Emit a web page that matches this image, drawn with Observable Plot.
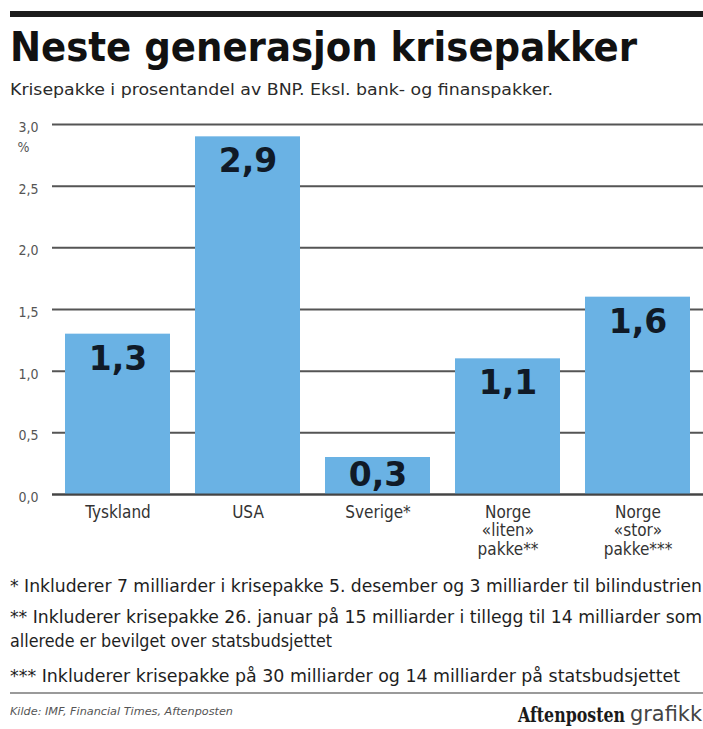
<!DOCTYPE html>
<html>
<head>
<meta charset="utf-8">
<script src="https://cdn.jsdelivr.net/npm/d3@7"></script>
<script src="https://cdn.jsdelivr.net/npm/@observablehq/plot@0.6"></script>
<style>
  html, body { margin: 0; padding: 0; background: #fff; }
  body { position: relative; width: 703px; height: 729px; overflow: hidden;
         font-family: "DejaVu Sans Condensed", "DejaVu Sans", sans-serif; }
  .t { position: absolute; white-space: nowrap; line-height: 1; display: inline-block; transform-origin: 0 0; }
  #topbar { position: absolute; left: 10px; top: 11px; width: 693px; height: 6px; background: #1d1d1d; }
  #title { left: 10px; top: 27.3px; font-size: 41px; font-weight: bold; color: #111; }
  #subtitle { left: 10px; top: 81.5px; font-size: 16px; color: #2a2a2a; }
  .fn { left: 10px; font-size: 18px; color: #1e1e1e; }
  #rule { position: absolute; left: 10px; top: 692px; width: 693px; height: 2px; background: #9a9a9a; }
  #source { left: 10px; top: 706px; font-size: 10.5px; font-style: italic; color: #555; }
  #logo1 { left: 518px; top: 704px; font-size: 21px; font-weight: bold; font-family: "DejaVu Serif", serif; color: #1a1a1a; }
  #logo2 { left: 630px; top: 704px; font-size: 21px; color: #444; }
  #chart { position: absolute; left: 0; top: 105px; }
</style>
</head>
<body>
<div id="topbar"></div>
<div class="t" id="title" data-w="627">Neste generasjon krisepakker</div>
<div class="t" id="subtitle" data-w="543">Krisepakke i prosentandel av BNP. Eksl. bank- og finanspakker.</div>
<div id="chart"></div>
<div id="footnotes"></div>
<div id="rule"></div>
<div class="t" id="source" data-w="223">Kilde: IMF, Financial Times, Aftenposten</div>
<div class="t" id="logo1" data-w="107">Aftenposten</div>
<div class="t" id="logo2" data-w="72">grafikk</div>
<script>
// ---- data ----
const categories = ["Tyskland", "USA", "Sverige*", "Norge\n«liten»\npakke**", "Norge\n«stor»\npakke***"];
const values = [1.3, 2.9, 0.3, 1.1, 1.6];
const valueLabels = ["1,3", "2,9", "0,3", "1,1", "1,6"];
const yTicks = [0, 0.5, 1, 1.5, 2, 2.5, 3];
const yTickLabels = ["0,0", "0,5", "1,0", "1,5", "2,0", "2,5", "3,0"];
const yUnit = "%";
const footnoteLines = [
  "* Inkluderer 7 milliarder i krisepakke 5. desember og 3 milliarder til bilindustrien",
  "** Inkluderer krisepakke 26. januar på 15 milliarder i tillegg til 14 milliarder som",
  "allerede er bevilget over statsbudsjettet",
  "*** Inkluderer krisepakke på 30 milliarder og 14 milliarder på statsbudsjettet"
];

// ---- layout of footnotes (style only) ----
const fnTops = [576.8, 607.8, 631.8, 666.8];
const fnWidths = [692, 692, 322, 670];
const fnHost = document.getElementById("footnotes");
footnoteLines.forEach((s, i) => {
  const d = document.createElement("div");
  d.className = "t fn";
  d.style.top = fnTops[i] + "px";
  d.dataset.w = fnWidths[i];
  d.textContent = s;
  fnHost.appendChild(d);
});

const table = categories.map((c, i) => ({cat: c, value: values[i], label: valueLabels[i]}));
const yMax = yTicks[yTicks.length - 1];

const chart = Plot.plot({
  width: 703,
  height: 460,
  marginLeft: 52,
  marginRight: 0,
  marginTop: 19,
  marginBottom: 71,
  style: {fontFamily: "'DejaVu Sans Condensed', 'DejaVu Sans', sans-serif", background: "transparent", overflow: "visible"},
  x: {domain: categories, paddingInner: 0.19, paddingOuter: 0.08, label: null},
  y: {domain: [0, yMax], label: null},
  marks: [
    Plot.ruleY(yTicks, {stroke: "#555", strokeWidth: 2}),
    Plot.barY(table, {x: "cat", y: "value", fill: "#6ab2e4"}),
    Plot.ruleY([0], {stroke: "#444", strokeWidth: 2}),
    Plot.axisY({ticks: yTicks, tickFormat: d => yTickLabels[yTicks.indexOf(d)], tickSize: 0, tickPadding: 14,
                fontSize: 14, color: "#555", dy: 3, label: null}),
    Plot.text([yUnit], {y: [yMax], text: d => d, frameAnchor: "left", dx: -29, dy: 23, fontSize: 14, fill: "#555", textAnchor: "middle"}),
    Plot.axisX({tickSize: 0, tickPadding: 10, fontSize: 17, lineHeight: 1.1, color: "#333", label: null}),
    Plot.text(table.filter(d => d.value >= 0.5), {x: "cat", y: "value", text: "label", dy: 25,
                fontSize: 33, fontWeight: "bold", fill: "#101a27", fontFamily: "'DejaVu Sans', sans-serif"}),
    Plot.text(table.filter(d => d.value < 0.5), {x: "cat", y: "value", text: "label", dy: 18,
                fontSize: 33, fontWeight: "bold", fill: "#101a27", fontFamily: "'DejaVu Sans', sans-serif"})
  ]
});
document.getElementById("chart").appendChild(chart);

// fit text widths to the measured widths of the original
document.querySelectorAll("[data-w]").forEach(el => {
  const w = el.getBoundingClientRect().width;
  const target = +el.dataset.w;
  if (w > 0) el.style.transform = `scaleX(${target / w})`;
});
</script>
</body>
</html>
